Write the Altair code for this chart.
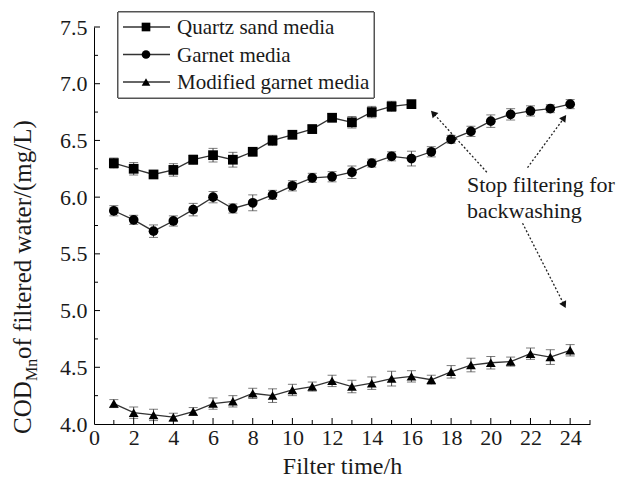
import math
import altair as alt
import pandas as pd

# ---- data -----------------------------------------------------------------
series_names = ["Quartz sand media", "Garnet media", "Modified garnet media"]

quartz_hours = list(range(1, 17))
quartz_cod = [6.30, 6.25, 6.20, 6.24, 6.33, 6.37, 6.33, 6.40, 6.50, 6.55,
              6.60, 6.70, 6.66, 6.75, 6.80, 6.82]
quartz_err = [0.045, 0.055, 0.035, 0.055, 0.04, 0.06, 0.065, 0.035, 0.045, 0.035,
              0.035, 0.035, 0.05, 0.05, 0.045, 0.03]

garnet_hours = list(range(1, 25))
garnet_cod = [5.88, 5.80, 5.70, 5.79, 5.89, 6.00, 5.90, 5.95, 6.02, 6.10,
              6.17, 6.18, 6.22, 6.30, 6.36, 6.34, 6.40, 6.51, 6.58, 6.67,
              6.73, 6.76, 6.78, 6.82]
garnet_err = [0.045, 0.04, 0.055, 0.045, 0.055, 0.05, 0.04, 0.07, 0.04, 0.045,
              0.04, 0.045, 0.055, 0.035, 0.04, 0.065, 0.045, 0.035, 0.045, 0.055,
              0.05, 0.045, 0.035, 0.04]

modified_hours = list(range(1, 25))
modified_cod = [4.18, 4.10, 4.08, 4.06, 4.11, 4.18, 4.20, 4.27, 4.25, 4.30,
                4.33, 4.38, 4.33, 4.36, 4.40, 4.42, 4.39, 4.46, 4.52, 4.54,
                4.55, 4.62, 4.59, 4.65]
modified_err = [0.035, 0.05, 0.05, 0.035, 0.035, 0.05, 0.05, 0.045, 0.06, 0.05,
                0.04, 0.05, 0.055, 0.055, 0.065, 0.05, 0.04, 0.055, 0.06, 0.055,
                0.04, 0.05, 0.065, 0.05]

x_tick_labels = list(range(0, 25, 2))
y_tick_labels = [4.0, 4.5, 5.0, 5.5, 6.0, 6.5, 7.0, 7.5]

note_lines = ["Stop filtering for", "backwashing"]

# ---- layout constants -----------------------------------------------------
W, H = 496, 397
X_MAX, Y_MIN, Y_MAX = 25, 4.0, 7.5
PX_PER_X = W / X_MAX
PX_PER_Y = H / (Y_MAX - Y_MIN)
FONT = "Liberation Serif"
INK = "#1a1a1a"

rows = []
for name, hrs, vals, errs in [
    (series_names[0], quartz_hours, quartz_cod, quartz_err),
    (series_names[1], garnet_hours, garnet_cod, garnet_err),
    (series_names[2], modified_hours, modified_cod, modified_err),
]:
    for h, v, e in zip(hrs, vals, errs):
        rows.append({"series": name, "h": h, "cod": v, "lo": v - e, "hi": v + e})
df = pd.DataFrame(rows)

x_scale = alt.Scale(domain=[0, X_MAX], nice=False, zero=False)
y_scale = alt.Scale(domain=[Y_MIN, Y_MAX], nice=False, zero=False)
shape_scale = alt.Scale(domain=series_names, range=["square", "circle", "triangle-up"])

x_axis = alt.Axis(values=x_tick_labels, ticks=False, grid=False, title="Filter time/h",
                  labelFont=FONT, labelFontSize=22, labelColor=INK, labelPadding=3,
                  titleFont=FONT, titleFontSize=24, titleFontWeight="normal",
                  titleColor=INK, titlePadding=6, domainColor="black", labelFlush=False)
y_axis = alt.Axis(values=y_tick_labels, format=".1f", ticks=False, grid=False, title=None,
                  labelFont=FONT, labelFontSize=22, labelColor=INK, labelPadding=7,
                  domainColor="black", labelFlush=False)

base = alt.Chart(df)

lines = base.mark_line(color="#333333", strokeWidth=1.3).encode(
    x=alt.X("h:Q", scale=x_scale, axis=x_axis),
    y=alt.Y("cod:Q", scale=y_scale, axis=y_axis),
    detail="series:N",
)

err_rules = base.mark_rule(color="#444444", strokeWidth=1).encode(
    x="h:Q", y="lo:Q", y2="hi:Q"
)
err_lo = base.mark_tick(color="#444444", thickness=1, size=9, orient="horizontal").encode(
    x="h:Q", y="lo:Q"
)
err_hi = base.mark_tick(color="#444444", thickness=1, size=9, orient="horizontal").encode(
    x="h:Q", y="hi:Q"
)

points = base.mark_point(filled=True, color="black", opacity=1, size=95).encode(
    x="h:Q", y="cod:Q",
    shape=alt.Shape("series:N", scale=shape_scale, legend=None),
)

# inward tick marks
xt_major = pd.DataFrame({"t": list(range(2, 25, 2))})
xt_minor = pd.DataFrame({"t": list(range(1, 26, 2))})
yt_major = pd.DataFrame({"t": [4.5, 5.0, 5.5, 6.0, 6.5, 7.0, 7.5]})
yt_minor = pd.DataFrame({"t": [4.25, 4.75, 5.25, 5.75, 6.25, 6.75, 7.25]})

def x_ticks(d, length):
    return alt.Chart(d).mark_rule(color="black", strokeWidth=1).encode(
        x="t:Q", y=alt.value(H), y2=alt.value(H - length))

def y_ticks(d, length):
    return alt.Chart(d).mark_rule(color="black", strokeWidth=1).encode(
        y="t:Q", x=alt.value(0), x2=alt.value(length))

ticks = [x_ticks(xt_major, 6), x_ticks(xt_minor, 4), y_ticks(yt_major, 6), y_ticks(yt_minor, 4)]

# annotation: text plus three dotted arrows
note_df = pd.DataFrame({"txt": note_lines, "x": [18.8, 18.8], "y": [6.11, 5.88]})
note = alt.Chart(note_df).mark_text(align="left", baseline="middle", font=FONT,
                                    fontSize=22, color=INK).encode(
    x="x:Q", y="y:Q", text="txt:N")

arrow_tail = [(19.8, 6.22), (21.85, 6.26), (21.6, 5.77)]
arrow_head = [(17.1, 6.74), (23.7, 6.70), (23.7, 5.05)]
seg_rows, head_rows = [], []
for i, ((x1, y1), (x2, y2)) in enumerate(zip(arrow_tail, arrow_head)):
    seg_rows += [{"a": i, "k": 0, "x": x1, "y": y1}, {"a": i, "k": 1, "x": x2, "y": y2}]
    dx = (x2 - x1) * PX_PER_X
    dy = (y2 - y1) * PX_PER_Y
    ang = math.degrees(math.atan2(dx, dy)) % 360
    head_rows.append({"x": x2, "y": y2, "ang": ang})
seg_df = pd.DataFrame(seg_rows)
head_df = pd.DataFrame(head_rows)

arrow_lines = alt.Chart(seg_df).mark_line(color="#222222", strokeWidth=1.3,
                                          strokeDash=[2, 2]).encode(
    x="x:Q", y="y:Q", detail="a:N", order="k:Q")
arrow_heads = alt.Chart(head_df).mark_point(shape="triangle-up", filled=True, color="#111111",
                                            opacity=1, size=60).encode(
    x="x:Q", y="y:Q", angle=alt.Angle("ang:Q", scale=None))

# legend drawn as marks
legend_layers = [
    alt.Chart(df).mark_rect(fill="white", stroke="#555555", strokeWidth=1).encode(
        x=alt.value(24), x2=alt.value(280), y=alt.value(-15), y2=alt.value(71))
]
for i, (name, shp) in enumerate(zip(series_names, ["square", "circle", "triangle-up"])):
    ly = i * 27.5
    one = pd.DataFrame({"series": [name]})
    legend_layers.append(alt.Chart(one).mark_rule(color="#333333", strokeWidth=1.3).encode(
        x=alt.value(29), x2=alt.value(76), y=alt.value(ly)))
    legend_layers.append(alt.Chart(one).mark_point(shape=shp, filled=True, color="black",
                                                   opacity=1, size=75).encode(
        x=alt.value(52), y=alt.value(ly)))
    legend_layers.append(alt.Chart(one).mark_text(align="left", baseline="middle", font=FONT,
                                                  fontSize=21, color=INK).encode(
        x=alt.value(83), y=alt.value(ly + 1), text="series:N"))

# y-axis title with subscript (reads bottom to top)
title_parts = [
    ("COD", 25, -63, 407),
    ("Mn", 16, -57, 354),
    (" of filtered water/(mg/L)", 25, -63, 332),
]
title_layers = []
for txt, fs, px, py in title_parts:
    t = pd.DataFrame({"txt": [txt]})
    title_layers.append(alt.Chart(t).mark_text(angle=270, align="left", baseline="alphabetic",
                                               font=FONT, fontSize=fs, color=INK).encode(
        x=alt.value(px), y=alt.value(py), text="txt:N"))

chart = alt.layer(
    lines, err_rules, err_lo, err_hi, points, *ticks,
    arrow_lines, arrow_heads, note, *legend_layers, *title_layers,
).properties(
    width=W, height=H,
    autosize=alt.AutoSizeParams(type="none"),
    padding={"left": 94, "top": 27, "right": 620 - 94 - W, "bottom": 488 - 27 - H},
    background="white",
).configure_view(stroke=None)

chart.save("out.html", embed_options={"renderer": "svg", "actions": False})
